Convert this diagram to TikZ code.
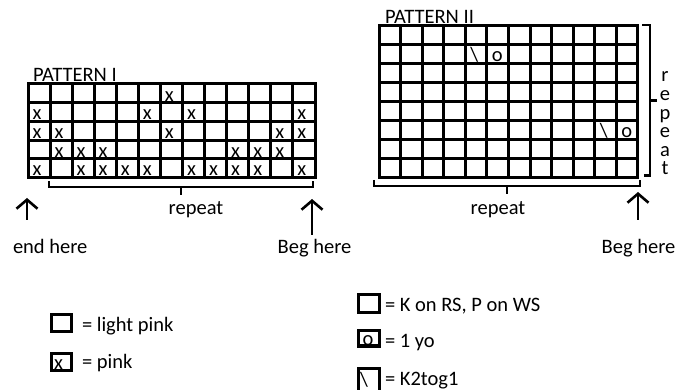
\documentclass[tikz,border=0pt]{standalone}
\usepackage{fontspec}
\setmainfont{Carlito}
\usetikzlibrary{arrows.meta}
\begin{document}
\begin{tikzpicture}[x=1pt,y=-1pt,
  lbl/.style={font=\fontsize{20.5}{24}\selectfont, inner sep=0pt, outer sep=0pt},
  gridline/.style={line width=3pt, line cap=rect},
  brk/.style={line width=2.6pt},
  arr/.style={line width=2.6pt, -{Straight Barb[length=9pt,width=21pt]}},
  keybox/.style={line width=3.3pt},
]
\useasboundingbox[fill=white] (0,0) rectangle (689,390);

% ---------- Pattern I ----------
\def\pAx{28}\def\pAy{84}\def\pAw{22.08}\def\pAh{18.7}
\node[lbl, anchor=base west] (titleI) at (33,82) {PATTERN I};
\foreach \i in {0,...,13} \draw[gridline] ({\pAx+\i*\pAw},\pAy) -- ++(0,{5*\pAh});
\foreach \j in {0,...,5} \draw[gridline] (\pAx,{\pAy+\j*\pAh}) -- ++({13*\pAw},0);
\foreach \c/\r in {7/1, 1/2, 6/2, 8/2, 13/2, 1/3, 2/3, 7/3, 12/3, 13/3,
  2/4, 3/4, 4/4, 10/4, 11/4, 12/4,
  1/5, 3/5, 4/5, 5/5, 6/5, 8/5, 9/5, 10/5, 11/5, 13/5}
  \node[lbl, anchor=base west] (xI-\c-\r) at ({\pAx+(\c-1)*\pAw+4.5},{\pAy+\r*\pAh-1.6}) {x};

\draw[brk] (49,181) -- (49,187) -- (313,187) -- (313,181);
\draw[brk] (181,187) -- (181,195);
\node[lbl, anchor=base] (repI) at (196,215) {repeat};
\coordinate (endS) at (27,220); \coordinate (endT) at (27,198);
\draw[arr] (endS) -- (endT);
\coordinate (begIS) at (312,235); \coordinate (begIT) at (312,199);
\draw[arr] (begIS) -- (begIT);
\node[lbl, anchor=base west] (endhere) at (13,253.3) {end here};
\node[lbl, anchor=base] (begI) at (314.5,253.3) {Beg here};

% ---------- Pattern II ----------
\def\pBx{379}\def\pBy{26}\def\pBw{21.58}\def\pBh{19}
\node[lbl, anchor=base west] (titleII) at (385,23.5) {PATTERN II};
\foreach \i in {0,...,12} \draw[gridline] ({\pBx+\i*\pBw},\pBy) -- ++(0,{8*\pBh});
\foreach \j in {0,...,8} \draw[gridline] (\pBx,{\pBy+\j*\pBh}) -- ++({12*\pBw},0);
\foreach \c/\r/\t in {5/2/\textbackslash, 6/2/o, 11/6/\textbackslash, 12/6/o}
  \node[lbl, anchor=base west] (sII-\c-\r) at ({\pBx+(\c-1)*\pBw+5},{\pBy+\r*\pBh-2.5}) {\t};

\draw[brk] (374,180) -- (374,186) -- (640,186) -- (640,180);
\draw[brk] (507,186) -- (507,194);
\node[lbl, anchor=base] (repII) at (498,215) {repeat};
\draw[brk] (642,25) -- (650,25) -- (650,175.5) -- (644,175.5);
\draw[brk] (650,100.5) -- (657,100.5);
\foreach \l [count=\k from 0] in {r,e,p,e,a,t}
  \node[lbl, anchor=base] (v\k) at (665,{82+18.6*\k}) {\l};
\coordinate (begIIS) at (638,220); \coordinate (begIIT) at (638,192);
\draw[arr] (begIIS) -- (begIIT);
\node[lbl, anchor=base] (begII) at (638.5,253.3) {Beg here};

% ---------- Legend ----------
\draw[keybox] (51.6,314.6) rectangle (71.4,331.4);
\node[lbl, anchor=base west] (kLP) at (82,331.7) {= light pink};
\draw[keybox] (51.6,353.4) rectangle (71.4,370.3);
\node[lbl, anchor=base west] (kXx) at (54,370) {x};
\node[lbl, anchor=base west] (kP) at (82,369) {= pink};

\draw[keybox] (358.7,294.7) rectangle (379.3,312.3);
\node[lbl, anchor=base west] (kK) at (385,311.7) {= K on RS, P on WS};
\draw[keybox] (358.7,330.7) rectangle (379.3,346);
\node[lbl, anchor=base west] (kOo) at (362.5,346) {o};
\node[lbl, anchor=base west] (kO) at (385,348) {= 1 yo};
\draw[keybox] (358.7,368.7) rectangle (379.3,396);
\node[lbl, anchor=base west] (kBs) at (360,387) {\textbackslash};
\node[lbl, anchor=base west] (kB) at (385,385.5) {= K2tog1};
\end{tikzpicture}
\end{document}
